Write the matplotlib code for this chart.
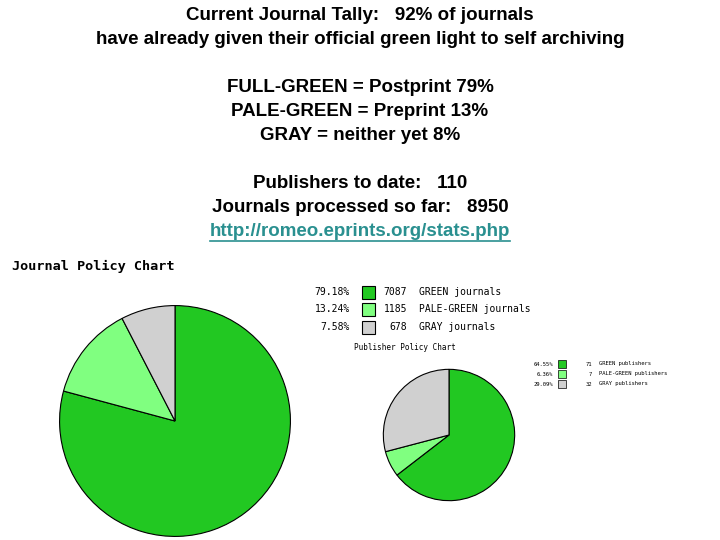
import matplotlib
matplotlib.use("Agg")
import matplotlib.pyplot as plt
from matplotlib.patches import Rectangle

# datos
titulo = ["Current Journal Tally:   92% of journals",
          "have already given their official green light to self archiving"]
resumen = ["FULL-GREEN = Postprint 79%",
           "PALE-GREEN = Preprint 13%",
           "GRAY = neither yet 8%"]
conteo = ["Publishers to date:   110",
          "Journals processed so far:   8950"]
url = "http://romeo.eprints.org/stats.php"

colores = ["#22c822", "#80ff80", "#d0d0d0"]

journal_pct = [79.18, 13.24, 7.58]
journal_n = [7087, 1185, 678]
journal_lab = ["GREEN journals", "PALE-GREEN journals", "GRAY journals"]

pub_pct = [64.55, 6.36, 29.09]
pub_n = [71, 7, 32]
pub_lab = ["GREEN publishers", "PALE-GREEN publishers", "GRAY publishers"]

W, H = 720, 540
fig = plt.figure(figsize=(7.2, 5.4), dpi=100)
fig.patch.set_facecolor("white")

# capa en pixeles para textos
bg = fig.add_axes([0, 0, 1, 1])
bg.set_xlim(0, W)
bg.set_ylim(H, 0)
bg.axis("off")

fuente = "Liberation Sans"
lineas = [(titulo[0], 16), (titulo[1], 40),
          (resumen[0], 88), (resumen[1], 112), (resumen[2], 136),
          (conteo[0], 184), (conteo[1], 208)]
for txt, y in lineas:
    bg.text(360, y, txt, ha="center", va="center", fontsize=13.5,
            fontweight="bold", family=fuente, color="black")
t_url = bg.text(360, 232, url, ha="center", va="center", fontsize=13.5,
                fontweight="bold", family=fuente, color="#2a9090")

mono = "DejaVu Sans Mono"
bg.text(12, 266, "Journal Policy Chart", ha="left", va="center",
        fontsize=9.7, fontweight="bold", family=mono)

# leyenda journals
for i in range(3):
    y = 292 + i * 17.5
    bg.text(350, y, "%.2f%%" % journal_pct[i], ha="right", va="center",
            fontsize=7, family=mono)
    bg.add_patch(Rectangle((362, y - 6.5), 13, 13, facecolor=colores[i],
                           edgecolor="black", lw=0.8))
    bg.text(407, y, str(journal_n[i]), ha="right", va="center",
            fontsize=7, family=mono)
    bg.text(419, y, journal_lab[i], ha="left", va="center",
            fontsize=7, family=mono)

bg.text(354, 348, "Publisher Policy Chart", ha="left", va="center",
        fontsize=5.5, family=mono)

# leyenda publishers
for i in range(3):
    y = 364 + i * 10
    bg.text(553, y, "%.2f%%" % pub_pct[i], ha="right", va="center",
            fontsize=4, family=mono)
    bg.add_patch(Rectangle((558, y - 4), 8, 8, facecolor=colores[i],
                           edgecolor="black", lw=0.5))
    bg.text(592, y, str(pub_n[i]), ha="right", va="center",
            fontsize=4, family=mono)
    bg.text(599, y, pub_lab[i], ha="left", va="center",
            fontsize=4, family=mono)

# pies
def pie(cx, cy, r, vals):
    ax = fig.add_axes([(cx - r) / W, (H - cy - r) / H, 2 * r / W, 2 * r / H])
    ax.pie(vals, colors=colores, startangle=90, counterclock=False,
           wedgeprops=dict(edgecolor="black", linewidth=0.8))
    ax.set_xlim(-1.005, 1.005)
    ax.set_ylim(-1.005, 1.005)
    ax.set_aspect("auto")
    ax.axis("off")
    return ax

pie(175, 421, 116, journal_pct)
pie(449, 435, 66, pub_pct)

# subrayado del url
fig.canvas.draw()
bb = t_url.get_window_extent()
x0, x1 = bb.x0 / fig.dpi * 100, bb.x1 / fig.dpi * 100
bg.plot([x0, x1], [241, 241], color="#2a9090", lw=1.2)

fig.savefig("out.png", dpi=100, facecolor="white")
